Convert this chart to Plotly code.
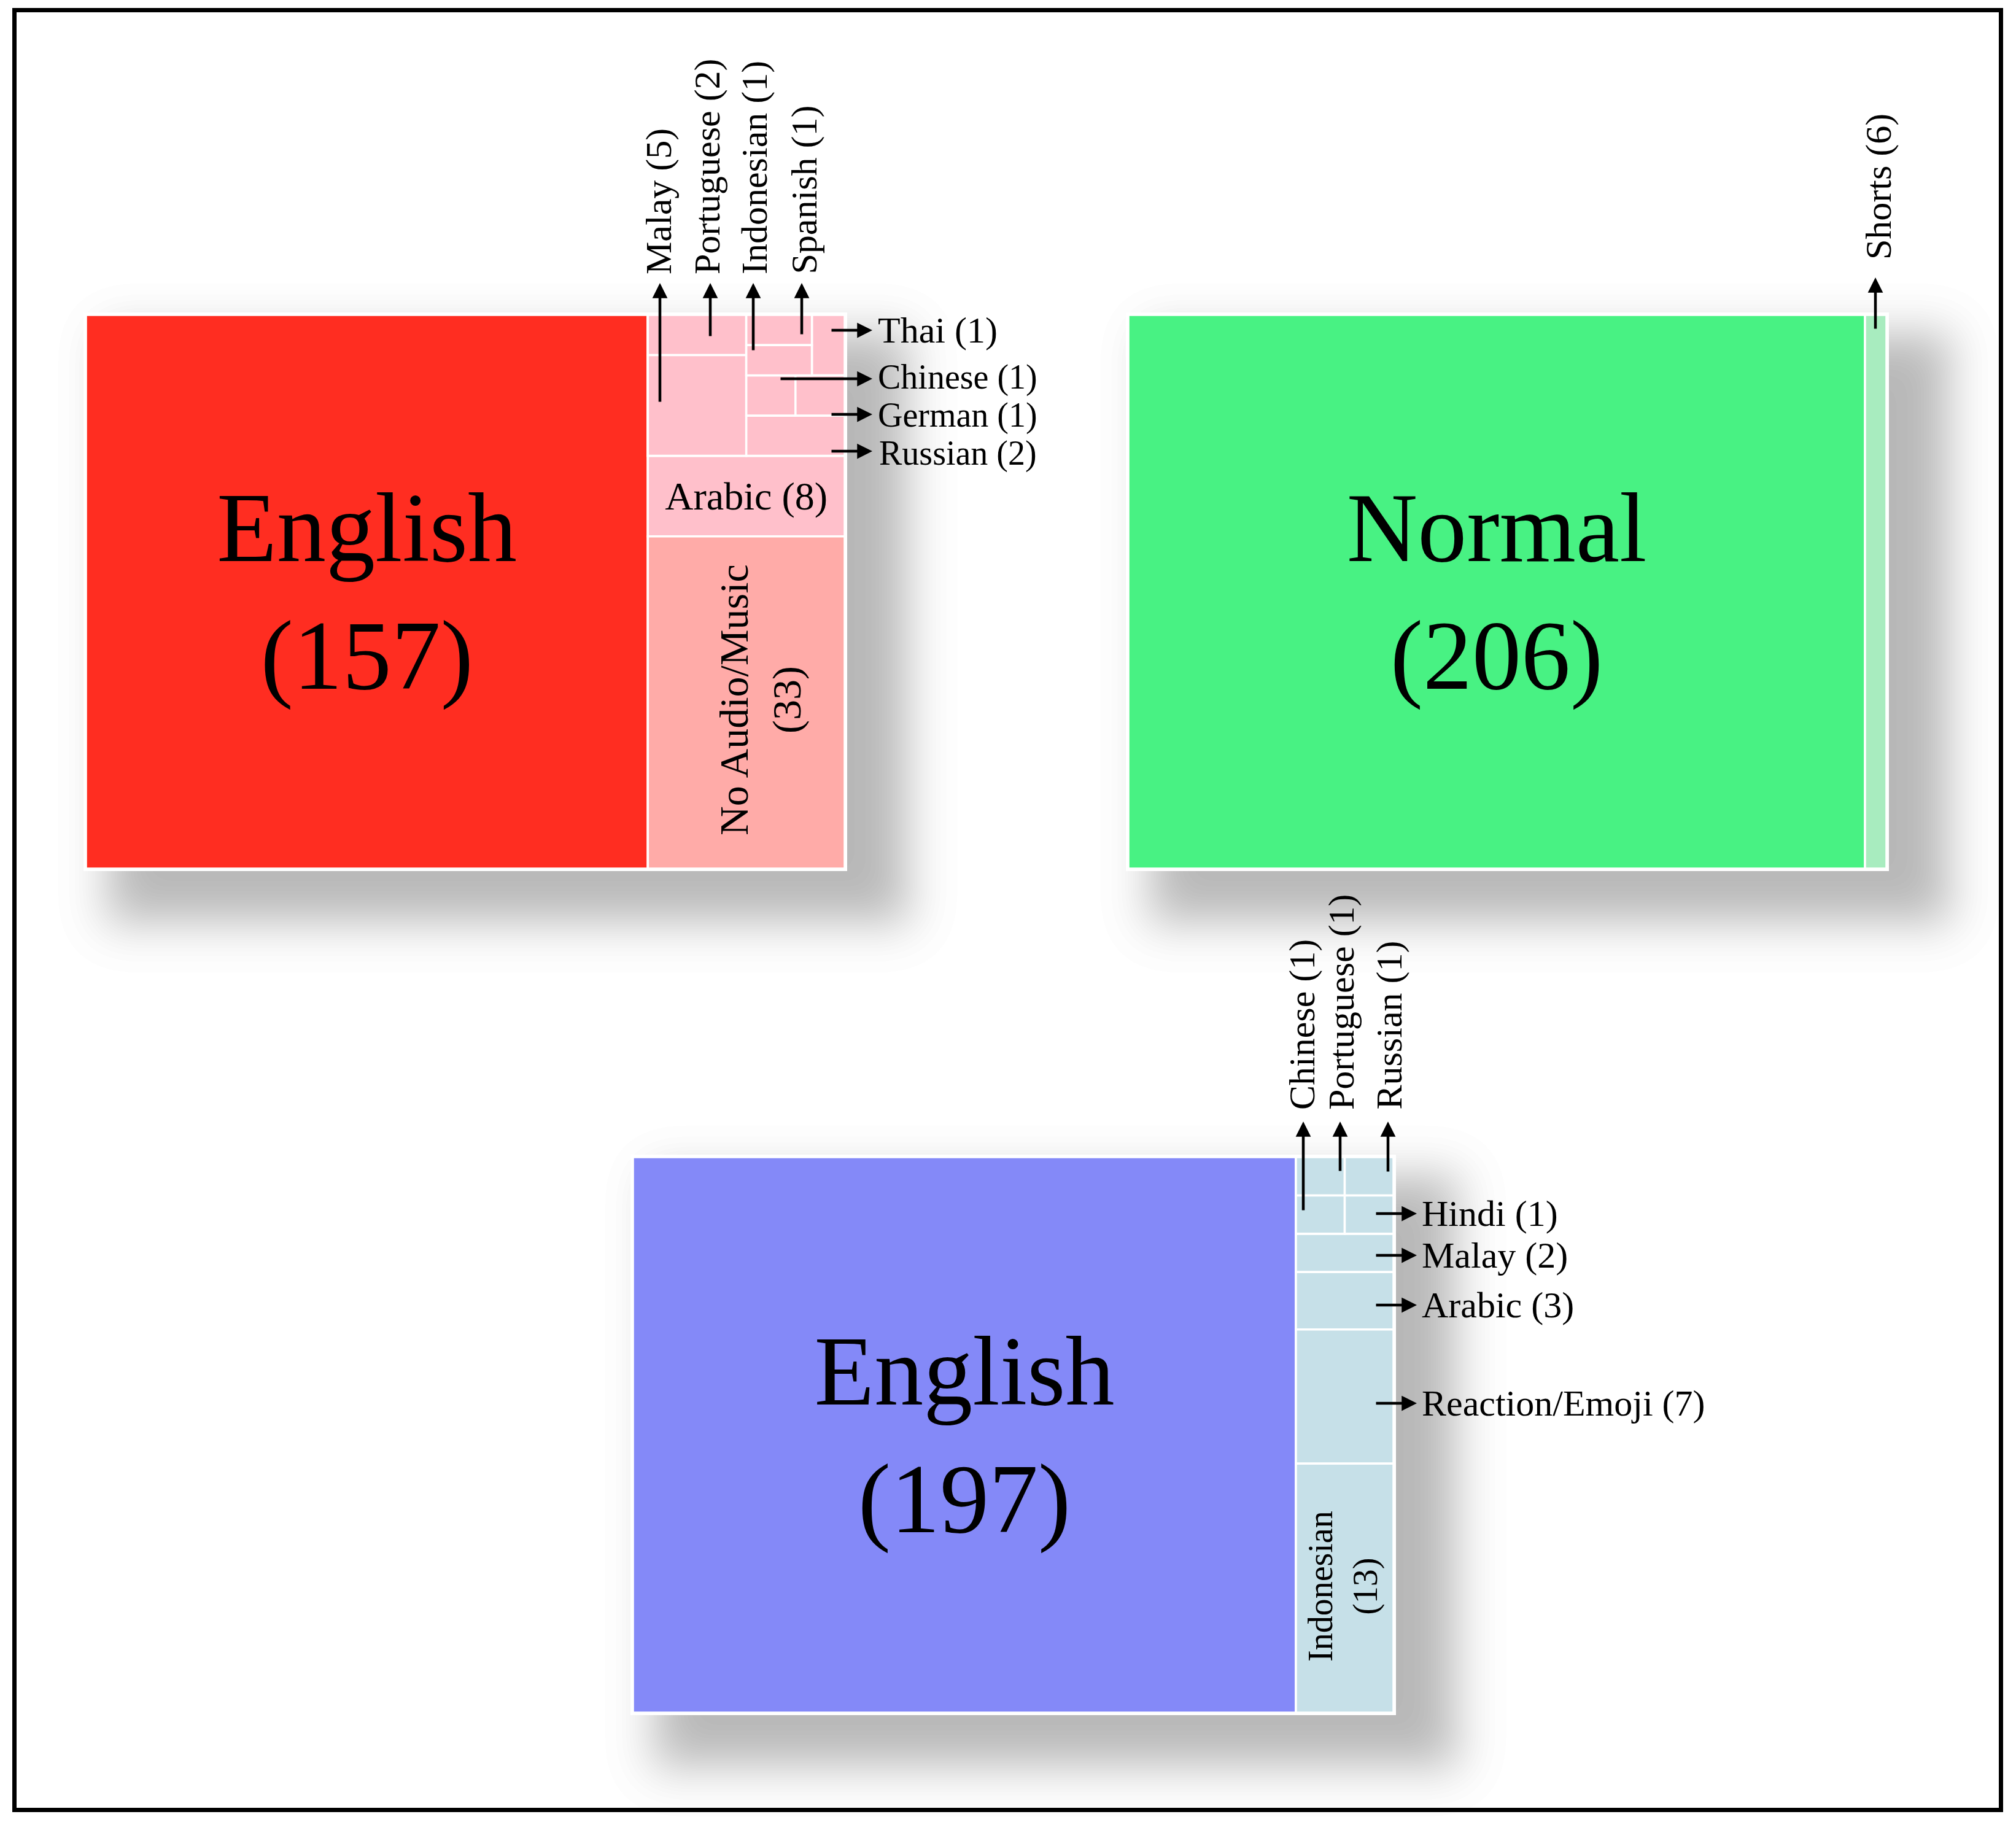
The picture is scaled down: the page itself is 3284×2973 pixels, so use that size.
import math
import plotly.graph_objects as go
from statistics import NormalDist

W, H = 3284, 2973
OFF = 8  # page body margin
SERIF = "Liberation Serif"

# top left panel (212). group nodes only hold tiles together, value 0
p1_ids = ["root", "English", "side", "small", "colA", "Portuguese", "Malay",
          "colB", "sit", "si", "Spanish", "Indonesian", "Thai", "cg",
          "Chinese", "German", "Russian", "Arabic", "No Audio/Music"]
p1_parents = ["", "root", "root", "side", "small", "colA", "colA",
              "small", "colB", "sit", "si", "si", "sit", "colB",
              "cg", "cg", "colB", "side", "side"]
p1_values = [0, 157, 0, 0, 0, 2, 5, 0, 0, 0, 1, 1, 1, 0, 1, 1, 2, 8, 33]

# top right panel (212)
p2_ids = ["root", "Normal", "Shorts"]
p2_parents = ["", "root", "root"]
p2_values = [0, 206, 6]

# bottom panel (226)
p3_ids = ["root", "English", "side", "small", "c1", "Portuguese", "Chinese",
          "c2", "Russian", "Hindi", "Malay", "Arabic", "Reaction/Emoji", "Indonesian"]
p3_parents = ["", "root", "root", "side", "small", "c1", "c1",
              "small", "c2", "c2", "side", "side", "side", "side"]
p3_values = [0, 197, 0, 0, 0, 1, 1, 0, 1, 1, 2, 3, 7, 13]

groups = {"root", "side", "small", "colA", "colB", "sit", "si", "cg", "c1", "c2"}

p1_colors = {"English": "#FF2D21", "No Audio/Music": "#FFABA8", "other": "#FFC0CB"}
p2_colors = {"Normal": "#48F283", "Shorts": "#A8ECBF"}
p3_colors = {"English": "#8489F8", "other": "#C6E0E8"}


def px_x(x):
    return (x - OFF) / W


def px_y(y):
    return 1 - (y - OFF) / H


def make_panel(ids, parents, values, cmap, inner, box):
    colors, text, sizes = [], [], []
    for i, v in zip(ids, values):
        if i in groups:
            colors.append("white")
        else:
            colors.append(cmap.get(i, cmap.get("other")))
        if i in ("English", "Normal"):
            text.append(f"{i}<br>({v})")
            sizes.append(160)
        elif i in inner:
            text.append(f"{i} ({v})")
            sizes.append(64)
        else:
            text.append("")
            sizes.append(60)
    x0, y0, x1, y1 = box
    return go.Treemap(
        ids=ids, labels=ids, parents=parents, values=values,
        branchvalues="remainder", sort=False,
        tiling=dict(packing="slice-dice", pad=0),
        marker=dict(colors=colors, line=dict(color="white", width=3.5),
                    pad=dict(t=0, l=0, r=0, b=0), depthfade=False),
        text=text, textinfo="text", textposition="middle center",
        textfont=dict(family=SERIF, size=sizes, color="black"),
        pathbar=dict(visible=False), hoverinfo="skip",
        domain=dict(x=[px_x(x0), px_x(x1)], y=[px_y(y1), px_y(y0)]),
    )


box1 = (140, 513, 1376, 1415)
box2 = (1838, 513, 3073, 1415)
box3 = (1031, 1885, 2270, 2790)

fig = go.Figure()
fig.add_trace(make_panel(p1_ids, p1_parents, p1_values, p1_colors, {"Arabic"}, box1))
fig.add_trace(make_panel(p2_ids, p2_parents, p2_values, p2_colors, set(), box2))
fig.add_trace(make_panel(p3_ids, p3_parents, p3_values, p3_colors, set(), box3))


def rrect(x0, y0, x1, y1, r):
    P = lambda x, y: f"{px_x(x):.6f},{px_y(y):.6f}"
    return (f"M{P(x0 + r, y0)} L{P(x1 - r, y0)} Q{P(x1, y0)} {P(x1, y0 + r)} "
            f"L{P(x1, y1 - r)} Q{P(x1, y1)} {P(x1 - r, y1)} L{P(x0 + r, y1)} "
            f"Q{P(x0, y1)} {P(x0, y1 - r)} L{P(x0, y0 + r)} Q{P(x0, y0)} {P(x0 + r, y0)} Z")


def shadow(box, n=36, sigma=38, dark=0.25):
    # soft drop shadow: stacked faint rounded rects
    x0, y0, x1, y1 = box
    nd = NormalDist()
    a = 1 - (1 - dark) ** (1 / n)
    cx0, cy0, cx1, cy1 = x0 + 38, y0 + 32, x1 + 100, y1 + 86
    out = []
    for k in range(n):
        d = sigma * nd.inv_cdf((k + 0.5) / n)
        p = nd.cdf(-d / sigma)
        e = -sigma * nd.inv_cdf(math.sqrt(p))
        r = max(0.0, (d - e) / (1 - 1 / math.sqrt(2)))
        out.append(dict(type="path", xref="paper", yref="paper", layer="below",
                        path=rrect(cx0 - d, cy0 - d, cx1 + d, cy1 + d, r),
                        line=dict(width=0), fillcolor=f"rgba(0,0,0,{a:.5f})"))
    # white frame round the tiles
    out.append(dict(type="rect", xref="paper", yref="paper", layer="below",
                    x0=px_x(x0 - 4), x1=px_x(x1 + 4), y0=px_y(y1 + 4), y1=px_y(y0 - 4),
                    line=dict(width=0), fillcolor="white"))
    return out


shapes = shadow(box1) + shadow(box2) + shadow(box3)
shapes.append(dict(type="rect", xref="paper", yref="paper", layer="above",
                   x0=px_x(23.5), x1=px_x(3259.5), y0=px_y(2948.5), y1=px_y(16.5),
                   line=dict(color="black", width=7), fillcolor="rgba(0,0,0,0)"))

v1 = dict(zip(p1_ids, p1_values))
v2 = dict(zip(p2_ids, p2_values))
v3 = dict(zip(p3_ids, p3_values))

ann = []

# rotated labels above the tiles: (name, value, x centre, y bottom)
up_labels = [
    ("Malay", v1["Malay"], 1073, 449), ("Portuguese", v1["Portuguese"], 1152, 449),
    ("Indonesian", v1["Indonesian"], 1229, 449), ("Spanish", v1["Spanish"], 1309, 449),
    ("Shorts", v2["Shorts"], 3060, 425),
    ("Chinese", v3["Chinese"], 2121, 1810), ("Portuguese", v3["Portuguese"], 2185, 1810),
    ("Russian", v3["Russian"], 2263, 1810),
]
for name, v, x, y in up_labels:
    ann.append(dict(text=f"{name} ({v})", x=px_x(x), y=px_y(y), xref="paper", yref="paper",
                    xanchor="center", yanchor="bottom", textangle=-90, showarrow=False,
                    font=dict(family=SERIF, size=60, color="black")))

# labels to the right: (name, value, x left, y centre, font size)
side_labels = [
    ("Thai", v1["Thai"], 1428, 538, 60), ("Chinese", v1["Chinese"], 1428, 614, 56),
    ("German", v1["German"], 1428, 676, 56), ("Russian", v1["Russian"], 1430, 738, 56),
    ("Hindi", v3["Hindi"], 2314, 1977, 60), ("Malay", v3["Malay"], 2314, 2045, 60),
    ("Arabic", v3["Arabic"], 2314, 2126, 60), ("Reaction/Emoji", v3["Reaction/Emoji"], 2314, 2286, 60),
]
for name, v, x, y, s in side_labels:
    ann.append(dict(text=f"{name} ({v})", x=px_x(x), y=px_y(y), xref="paper", yref="paper",
                    xanchor="left", yanchor="middle", showarrow=False,
                    font=dict(family=SERIF, size=s, color="black")))

# rotated labels inside tiles
inside = [("No Audio/Music", v1["No Audio/Music"], 1239, 1140, 66),
          ("Indonesian", v3["Indonesian"], 2188, 2584, 56)]
for name, v, x, y, s in inside:
    ann.append(dict(text=f"{name}<br>({v})", x=px_x(x), y=px_y(y), xref="paper", yref="paper",
                    xanchor="center", yanchor="middle", textangle=-90, showarrow=False,
                    font=dict(family=SERIF, size=s, color="black")))

# arrows: head (x, y), tail (x, y)
arrows = [
    (1075, 461, 1075, 656), (1157, 461, 1157, 549), (1227, 461, 1227, 572), (1306, 461, 1306, 546),
    (1421, 538, 1353, 538), (1421, 617, 1270, 617), (1421, 675, 1353, 675), (1421, 735, 1353, 735),
    (3055, 452, 3055, 537),
    (2123, 1827, 2123, 1973), (2183, 1827, 2183, 1909), (2261, 1827, 2261, 1910),
    (2308, 1977, 2240, 1977), (2308, 2045, 2240, 2045), (2308, 2126, 2240, 2126), (2308, 2286, 2240, 2286),
]
for hx, hy, tx, ty in arrows:
    ann.append(dict(text="", x=px_x(hx), y=px_y(hy), xref="paper", yref="paper",
                    ax=tx - hx, ay=ty - hy, showarrow=True, arrowhead=2, arrowsize=1.1,
                    arrowwidth=4.5, arrowcolor="black", standoff=0, startstandoff=0))

fig.update_layout(width=W, height=H, autosize=False, margin=dict(l=0, r=0, t=0, b=0),
                  paper_bgcolor="white", showlegend=False, shapes=shapes, annotations=ann)

fig.write_html("out.html")
